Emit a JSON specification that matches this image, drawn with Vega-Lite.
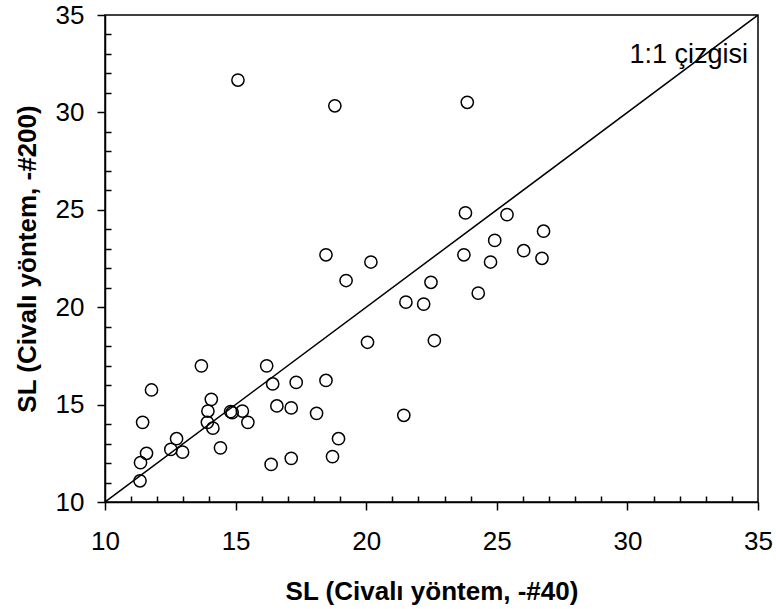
{
  "$schema": "https://vega.github.io/schema/vega-lite/v6.json",
  "width": 653,
  "height": 487,
  "autosize": "none",
  "padding": {"left": 105, "top": 15, "right": 18, "bottom": 107},
  "background": "white",
  "config": {
    "view": {"stroke": "black", "strokeWidth": 1.5},
    "font": "Liberation Sans",
    "axis": {
      "labelFont": "Liberation Sans",
      "titleFont": "Liberation Sans",
      "labelColor": "black",
      "titleColor": "black",
      "domainColor": "black",
      "tickColor": "black",
      "grid": false,
      "labelFlush": false
    }
  },
  "datasets": {
    "pts": [
      {"sl40": 15.09, "sl200": 31.66},
      {"sl40": 18.8, "sl200": 30.34},
      {"sl40": 23.87, "sl200": 30.52},
      {"sl40": 23.8, "sl200": 24.84},
      {"sl40": 25.39, "sl200": 24.75},
      {"sl40": 26.79, "sl200": 23.9},
      {"sl40": 24.92, "sl200": 23.43},
      {"sl40": 23.74, "sl200": 22.69},
      {"sl40": 24.76, "sl200": 22.32},
      {"sl40": 26.03, "sl200": 22.9},
      {"sl40": 26.73, "sl200": 22.51},
      {"sl40": 24.29, "sl200": 20.72},
      {"sl40": 18.46, "sl200": 22.69},
      {"sl40": 20.18, "sl200": 22.32},
      {"sl40": 19.23, "sl200": 21.37},
      {"sl40": 22.48, "sl200": 21.28},
      {"sl40": 21.52, "sl200": 20.26},
      {"sl40": 22.2, "sl200": 20.16},
      {"sl40": 20.05, "sl200": 18.2},
      {"sl40": 22.61, "sl200": 18.29},
      {"sl40": 18.46, "sl200": 16.24},
      {"sl40": 18.1, "sl200": 14.55},
      {"sl40": 21.44, "sl200": 14.45},
      {"sl40": 18.94, "sl200": 13.25},
      {"sl40": 18.71, "sl200": 12.33},
      {"sl40": 11.34, "sl200": 11.09},
      {"sl40": 11.36, "sl200": 12.02},
      {"sl40": 11.59, "sl200": 12.5},
      {"sl40": 11.44, "sl200": 14.09},
      {"sl40": 11.78, "sl200": 15.75},
      {"sl40": 13.69, "sl200": 16.99},
      {"sl40": 12.74, "sl200": 13.25},
      {"sl40": 12.52, "sl200": 12.7},
      {"sl40": 12.97, "sl200": 12.56},
      {"sl40": 13.94, "sl200": 14.67},
      {"sl40": 14.07, "sl200": 15.27},
      {"sl40": 13.92, "sl200": 14.09},
      {"sl40": 14.13, "sl200": 13.79},
      {"sl40": 14.42, "sl200": 12.78},
      {"sl40": 14.81, "sl200": 14.64},
      {"sl40": 14.87, "sl200": 14.59},
      {"sl40": 15.26, "sl200": 14.67},
      {"sl40": 15.47, "sl200": 14.09},
      {"sl40": 16.19, "sl200": 16.99},
      {"sl40": 16.42, "sl200": 16.06},
      {"sl40": 17.32, "sl200": 16.14},
      {"sl40": 16.58, "sl200": 14.93},
      {"sl40": 17.13, "sl200": 14.83},
      {"sl40": 16.36, "sl200": 11.93},
      {"sl40": 17.13, "sl200": 12.24}
    ],
    "oneone": [
      {"sl40": 10, "sl200": 10},
      {"sl40": 35, "sl200": 35}
    ],
    "lbl": [
      {"sl40": 34.62, "sl200": 32.54, "text": "1:1 çizgisi"}
    ]
  },
  "layer": [
    {
      "data": {"name": "oneone"},
      "mark": {"type": "line", "color": "black", "strokeWidth": 1.5, "clip": true},
      "encoding": {
        "x": {
          "field": "sl40", "type": "quantitative",
          "scale": {"domain": [10, 35], "nice": false, "zero": false},
          "axis": {
            "orient": "bottom",
            "values": [11,12,13,14,16,17,18,19,21,22,23,24,26,27,28,29,31,32,33,34],
            "tickSize": -6, "tickWidth": 1.5, "labels": false, "domain": false, "title": null
          }
        },
        "y": {
          "field": "sl200", "type": "quantitative",
          "scale": {"domain": [10, 35], "nice": false, "zero": false},
          "axis": {
            "orient": "left",
            "values": [11,12,13,14,16,17,18,19,21,22,23,24,26,27,28,29,31,32,33,34],
            "tickSize": -6, "tickWidth": 1.5, "labels": false, "domain": false, "title": null
          }
        }
      }
    },
    {
      "data": {"name": "pts"},
      "mark": {"type": "point", "shape": "circle", "filled": false, "color": "black", "strokeWidth": 1.5, "size": 150, "opacity": 1},
      "encoding": {
        "x": {
          "field": "sl40", "type": "quantitative",
          "axis": {
            "orient": "bottom",
            "values": [10, 15, 20, 25, 30, 35],
            "title": "SL (Civalı yöntem, -#40)",
            "titleFontSize": 26, "titleFontWeight": "bold", "titlePadding": 24,
            "labelFontSize": 26, "labelPadding": 18,
            "tickSize": 8, "tickWidth": 1.5, "domainWidth": 1.5
          }
        },
        "y": {
          "field": "sl200", "type": "quantitative",
          "axis": {
            "orient": "left",
            "values": [10, 15, 20, 25, 30, 35],
            "title": "SL (Civalı yöntem, -#200)",
            "titleFontSize": 26, "titleFontWeight": "bold", "titlePadding": 15,
            "labelFontSize": 26, "labelPadding": 13,
            "tickSize": 8, "tickWidth": 1.5, "domainWidth": 1.5
          }
        }
      }
    },
    {
      "data": {"name": "lbl"},
      "mark": {"type": "text", "align": "right", "baseline": "alphabetic", "fontSize": 27, "font": "Liberation Sans", "color": "black"},
      "encoding": {
        "x": {"field": "sl40", "type": "quantitative", "axis": null},
        "y": {"field": "sl200", "type": "quantitative", "axis": null},
        "text": {"field": "text"}
      }
    }
  ],
  "resolve": {"axis": {"x": "independent", "y": "independent"}}
}
